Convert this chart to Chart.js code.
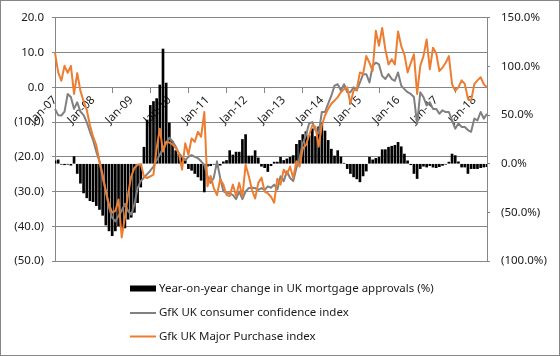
<!DOCTYPE html>
<html>
<head>
<meta charset="utf-8">
<script src="https://cdn.jsdelivr.net/npm/chart.js@4.4.1/dist/chart.umd.min.js"></script>
<style>
  html, body { margin: 0; padding: 0; background: #ffffff; }
  #wrap { width: 560px; height: 356px; position: relative; }
  canvas { display: block; }
</style>
</head>
<body>
<div id="wrap"><canvas id="chart" width="560" height="356"></canvas></div>
<script>
// ---------------- data ----------------
const monthNames = ['Jan','Feb','Mar','Apr','May','Jun','Jul','Aug','Sep','Oct','Nov','Dec'];
const firstYear = 2007;
const monthCount = 137; // Jan-07 .. May-18
const categories = [];
for (let i = 0; i < monthCount; i++) {
  const y = firstYear + Math.floor(i / 12);
  categories.push(monthNames[i % 12] + '-' + String(y).slice(2));
}

const seriesNames = [
  'Year-on-year change in UK mortgage approvals (%)',
  'GfK UK consumer confidence index',
  'Gfk UK Major Purchase index'
];

// Year-on-year change in UK mortgage approvals (%), right axis
const mortgageApprovalsYoY = [
  3, 4, -0.5, -1, -0.5, -1.5, 7.4, -10, -20, -30, -35, -38,
  -39, -43, -47, -53, -63, -69, -74, -69, -64, -67, -66, -57,
  -55, -50, -40, -24, 17, 45, 60, 64, 67, 81, 118, 83,
  42, 23, 13.5, 10, 6.7, 3.4, -5, -6.7, -10, -13.5, -17, -29,
  -2.5, -2, -0.5, -3.4, -1.5, 2, 3.4, 13.5, 9, 12, 12, 25,
  30, 8, 8, 13.5, 6, -2.5, -4, -8, -2, 1.7, 1.7, 6.7,
  3.4, 5, 6.7, 8.4, 20, 24, 30, 33, 29, 36, 28, 38,
  42, 33.7, 24, 15, 8, 13.5, 7, 0.5, -5, -10, -13.5, -15.5,
  -18.6, -12.5, -7.5, 6.7, 4, 5.5, 6.7, 14.5, 14.5, 17, 18, 19,
  22, 17.5, 10, 3, -1, -10, -15.2, -5, -2.5, -3.4, -2, -3.5,
  -4, -3, -1.7, -0.5, 1.7, 10, 8.4, 2, -3.4, -3.4, -10, -5,
  -5, -5, -4, -3.4, -3
];

// GfK UK consumer confidence index, left axis
const consumerConfidence = [
  -6.2, -8, -8.1, -7, -1.9, -2.8, -6.2, -4.3, -7, -8, -10, -12.8,
  -15.2, -18.5, -21.3, -26.1, -29.9, -34.6, -37.5, -38.6, -37, -35.6, -33.5, -35.6,
  -36.6, -33.7, -29, -27, -26, -25, -24, -22.8, -21, -19.4, -17.5, -16,
  -14.5, -15.5, -17, -19, -20, -21, -20, -19.5, -20, -20.4, -21.3, -22.3,
  -25.6, -27.5, -26, -21.3, -26.1, -29.9, -30.5, -30.5, -31, -32.2, -30, -32.2,
  -30, -29, -28.9, -29, -29.5, -29, -29.5, -28.5, -28.9, -28, -29.4, -25.6,
  -27, -24.2, -26.1, -27, -23.2, -20.4, -16.1, -13.8, -10.4, -10, -12.3, -13.3,
  -7.1, -7.1, -4.7, -2.4, 0.5, 0.9, -0.9, 0.9, -1.4, -1.4, 0, -0.9,
  1.4, 3.8, 3.8, 1.4, 6.2, 7.1, 6.6, 3.3, 2.4, 3.8, 2.4, 1.9,
  4.3, 0.5, -0.5, -1.4, -1.9, -2.8, -10.5, -1.4, -2.8, -5.2, -4.3, -6.2,
  -6.2, -7.6, -6.6, -7.1, -7.1, -9.5, -11.9, -10.4, -11.4, -11.4, -12.3, -12.8,
  -9, -9.5, -7.1, -9, -7.6
];

// GfK UK Major Purchase index, left axis
const majorPurchase = [
  10, 4.3, 1.9, 6.2, 4.2, 6.2, -1.9, 4.1, -1, -4, -6.5, -10.9,
  -14.2, -16.6, -21.3, -25.1, -29.9, -33.7, -36.1, -35.6, -32.3, -43.2, -37.5, -30.8,
  -25.6, -23.2, -22.3, -22.1, -25.6, -26.1, -25.6, -25.1, -17.6, -11.9, -18.5, -15.7,
  -15.9, -16.4, -17.5, -19, -23.7, -16.1, -19.4, -14.7, -15.7, -12.8, -14.2, -7.1,
  -28.5, -25.5, -29, -31, -26.5, -28, -31, -31.3, -28, -31.3, -27.5, -31.5,
  -22.3, -25.5, -29.5, -32, -27.5, -26, -30, -30.5, -31.5, -33.2, -26.3, -28,
  -23.7, -25.1, -22.8, -26.1, -21.3, -22.8, -17.6, -16.6, -13.8, -10.9, -11.4, -17.1,
  -10.9, -8.1, -6.2, -4.7, -3.8, -2.8, -1.4, -0.5, 0, -4.7, -0.9, -0.5,
  4.3, 3.8, 9, 7.1, 4.7, 16.3, 12, 17.1, 10.9, 6.6, 8.1, 6.6,
  16.1, 11.9, 9.5, 4.3, 7, 9.5, -1.9, 6.2, 9, 13.8, 5.2, 11.4,
  9.9, 4.7, 5.7, 7.1, 9, 0.9, -1, 0, 2, 1, -3.3, -3.8,
  0.9, 2, 2.9, 0.9, 0
];

const leftAxisTicks = [-50, -40, -30, -20, -10, 0, 10, 20];
const rightAxisTicks = [-100, -50, 0, 50, 100, 150];

// ---------------- style ----------------
const GRID = '#868686';
const TEXT = '#1a1a1a';
const FONT_FAMILY = '"Noto Sans", "Open Sans", sans-serif';
const probe = document.createElement('canvas').getContext('2d');
probe.font = '100px ' + FONT_FAMILY;
const FONT_SIZE = Math.round(100 * 189 / probe.measureText(seriesNames[1]).width * 10) / 10;
const FONT = { family: FONT_FAMILY, size: FONT_SIZE };

function fmtLeft(v) {
  return v < 0 ? '(' + Math.abs(v).toFixed(1) + ')' : v.toFixed(1);
}
function fmtRight(v) {
  return v < 0 ? '(' + Math.abs(v).toFixed(1) + '%)' : v.toFixed(1) + '%';
}

const frame = {
  id: 'frame',
  beforeDraw(chart) {
    const ctx = chart.ctx;
    ctx.save();
    ctx.fillStyle = '#ffffff';
    ctx.fillRect(0, 0, chart.width, chart.height);
    ctx.restore();
  },
  afterDraw(chart) {
    const ctx = chart.ctx;
    ctx.save();
    ctx.strokeStyle = GRID;
    ctx.lineWidth = 1;
    ctx.strokeRect(0.5, 0.5, chart.width - 1, chart.height - 1);
    ctx.restore();
  }
};

const stackedLegend = {
  id: 'stackedLegend',
  afterDraw(chart) {
    const ctx = chart.ctx;
    const x0 = 130, boxW = 26, textX = 159;
    const rows = [288.5, 313, 336.5];
    ctx.save();
    ctx.font = FONT_SIZE + 'px ' + FONT_FAMILY;
    ctx.textBaseline = 'middle';
    ctx.textAlign = 'left';
    chart.data.datasets.forEach((ds, k) => {
      const y = rows[k];
      if (ds.type === 'bar') {
        ctx.fillStyle = ds.backgroundColor;
        ctx.fillRect(x0, y - 3, boxW, 6);
      } else {
        ctx.strokeStyle = ds.borderColor;
        ctx.lineWidth = 2;
        ctx.beginPath();
        ctx.moveTo(x0, y);
        ctx.lineTo(x0 + boxW, y);
        ctx.stroke();
      }
      ctx.fillStyle = TEXT;
      ctx.fillText(ds.label, textX, y);
    });
    ctx.restore();
  }
};

new Chart(document.getElementById('chart'), {
  data: {
    labels: categories,
    datasets: [
      {
        type: 'bar',
        label: seriesNames[0],
        data: mortgageApprovalsYoY,
        yAxisID: 'y1',
        backgroundColor: '#000000',
        borderWidth: 0,
        barThickness: 2,
        order: 3
      },
      {
        type: 'line',
        label: seriesNames[1],
        data: consumerConfidence,
        yAxisID: 'y',
        borderColor: '#808080',
        borderWidth: 2,
        pointRadius: 0,
        tension: 0,
        borderJoinStyle: 'round',
        order: 2
      },
      {
        type: 'line',
        label: seriesNames[2],
        data: majorPurchase,
        yAxisID: 'y',
        borderColor: '#ED7D31',
        borderWidth: 2,
        pointRadius: 0,
        tension: 0,
        borderJoinStyle: 'round',
        order: 1
      }
    ]
  },
  options: {
    responsive: false,
    animation: false,
    devicePixelRatio: 1,
    layout: { padding: { top: 15, bottom: 95, left: 0, right: 0 } },
    plugins: {
      legend: { display: false },
      tooltip: { enabled: false },
      title: { display: false }
    },
    scales: {
      x: {
        type: 'category',
        position: { y: 0 },
        offset: false,
        afterBuildTicks: s => { s.ticks = s.ticks.filter(t => categories[t.value].startsWith('Jan')); },
        grid: { drawOnChartArea: false, drawTicks: true, tickLength: 5, color: GRID },
        border: { display: true, color: GRID },
        ticks: {
          autoSkip: false,
          minRotation: 45,
          maxRotation: 45,
          padding: 1,
          color: TEXT,
          font: FONT
        }
      },
      y: {
        type: 'linear',
        position: 'left',
        min: -50,
        max: 20,
        afterBuildTicks: s => { s.ticks = leftAxisTicks.map(v => ({ value: v })); },
        afterFit: s => { s.width = 55; },
        grid: { color: GRID, tickLength: 3 },
        border: { display: true, color: GRID },
        ticks: { callback: fmtLeft, padding: 8, color: TEXT, font: FONT }
      },
      y1: {
        type: 'linear',
        position: 'right',
        min: -100,
        max: 150,
        afterBuildTicks: s => { s.ticks = rightAxisTicks.map(v => ({ value: v })); },
        afterFit: s => { s.width = 73; },
        grid: { drawOnChartArea: false, color: GRID, tickLength: 3 },
        border: { display: true, color: GRID },
        ticks: { callback: fmtRight, padding: 11, color: TEXT, font: FONT }
      }
    }
  },
  plugins: [frame, stackedLegend]
});
</script>
</body>
</html>
